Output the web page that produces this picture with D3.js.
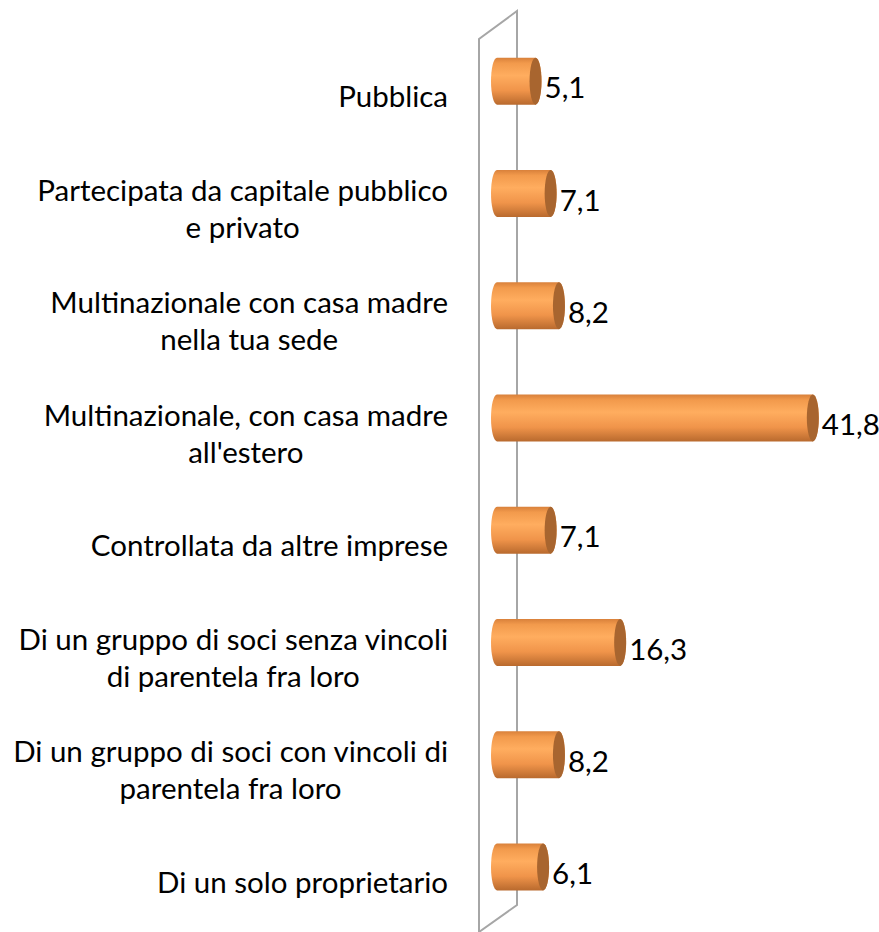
<!DOCTYPE html>
<html>
<head>
<meta charset="utf-8">
<script src="https://cdn.jsdelivr.net/npm/d3@7"></script>
<style>
  body { margin: 0; background: #ffffff; }
  text { font-family: Lato, "Open Sans", sans-serif; fill: #000; }
</style>
</head>
<body>
<svg id="chart"></svg>
<script>
let categories = [
    "Pubblica",
    "Partecipata da capitale pubblico\ne privato",
    "Multinazionale con casa madre\nnella tua sede",
    "Multinazionale, con casa madre\nall'estero",
    "Controllata da altre imprese",
    "Di un gruppo di soci senza vincoli\ndi parentela fra loro",
    "Di un gruppo di soci con vincoli di\nparentela fra loro",
    "Di un solo proprietario"
];
let values = [5.1, 7.1, 8.2, 41.8, 7.1, 16.3, 8.2, 6.1];

let width = 879;
let height = 932;
let font_size = 29.5;
let line_height = 37;
let bar_h = 47;
let cap_rx = 6;
let label_right = 448;

let svg = d3.select("#chart")
    .attr("width", width)
    .attr("height", height);

let x = d3.scaleLinear().domain([0, 45]).range([497, 837]);
let y = d3.scalePoint().domain(categories).range([25, 923]).padding(0.5);

let it = d3.formatLocale({decimal: ",", thousands: ".", grouping: [3], currency: ["", "€"]});
let fmt = it.format(".1f");

// cylinder shading
let defs = svg.append("defs");
let grad = defs.append("linearGradient")
    .attr("id", "cyl")
    .attr("x1", 0).attr("y1", 0).attr("x2", 0).attr("y2", 1);
grad.append("stop").attr("offset", "0%").attr("stop-color", "#d8803a");
grad.append("stop").attr("offset", "12%").attr("stop-color", "#f29a4c");
grad.append("stop").attr("offset", "38%").attr("stop-color", "#ffad5f");
grad.append("stop").attr("offset", "70%").attr("stop-color", "#f0944a");
grad.append("stop").attr("offset", "100%").attr("stop-color", "#b96a2e");

// back wall
let wall = svg.append("g")
    .attr("fill", "none")
    .attr("stroke", "#a6a6a6")
    .attr("stroke-width", 2);
wall.append("path").attr("d", "M479,932 L479,39 L517,11 L517,905 L479,932");

// bars
let bars = svg.append("g")
    .selectAll("g")
    .data(values)
    .enter().append("g");

bars.append("path")
    .attr("fill", "url(#cyl)")
    .attr("d", function (d, i) {
        let cy = y(categories[i]);
        let x0 = x(0);
        let x1 = x(d);
        let t = cy - bar_h / 2;
        let b = cy + bar_h / 2;
        return "M" + x0 + "," + t + " L" + x1 + "," + t +
            " A" + cap_rx + "," + (bar_h / 2) + " 0 0 1 " + x1 + "," + b +
            " L" + x0 + "," + b +
            " A" + cap_rx + "," + (bar_h / 2) + " 0 0 1 " + x0 + "," + t + " Z";
    });

bars.append("ellipse")
    .attr("cx", function (d) { return x(d); })
    .attr("cy", function (d, i) { return y(categories[i]); })
    .attr("rx", cap_rx)
    .attr("ry", bar_h / 2)
    .attr("fill", "#a8652f");

bars.append("text")
    .attr("x", function (d) { return x(d) + cap_rx + 3; })
    .attr("y", function (d, i) { return y(categories[i]) + 7; })
    .attr("dy", "0.35em")
    .style("font-size", font_size + "px")
    .text(function (d) { return fmt(d); });

// category labels: block right aligned, lines centred inside it
let labels = svg.append("g")
    .selectAll("text")
    .data(categories)
    .enter().append("text")
    .attr("text-anchor", "middle")
    .style("font-size", font_size + "px");

labels.each(function (d) {
    let lines = d.split("\n");
    let start = -(lines.length - 1) * line_height / 2;
    let t = d3.select(this);
    let spans = lines.map(function (ln, k) {
        return t.append("tspan")
            .attr("x", 0)
            .attr("y", start + k * line_height)
            .attr("dy", "0.35em")
            .text(ln);
    });
    let w = d3.max(spans, function (s) { return s.node().getComputedTextLength(); });
    t.attr("transform", "translate(" + (label_right - w / 2) + "," + (y(d) + 16) + ")");
});
</script>
</body>
</html>
